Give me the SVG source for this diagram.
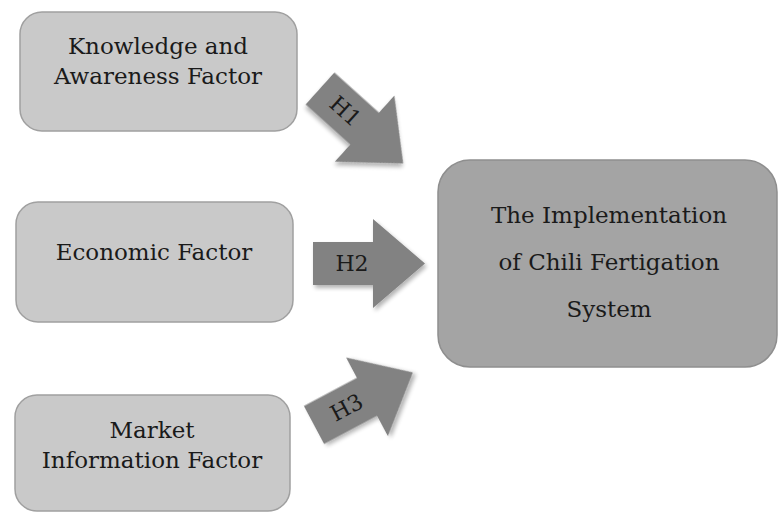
<svg xmlns="http://www.w3.org/2000/svg" width="779" height="514" viewBox="0 0 779 514">
<style>
.box{fill:#c9c9c9;stroke:#a0a0a0;stroke-width:1.5}
.main{fill:#a4a4a4;stroke:#8e8e8e;stroke-width:1.5}
.lbl{font-family:"DejaVu Serif","Liberation Serif",serif;font-size:23px;fill:#1a1a1a;text-anchor:middle}
.arr{fill:#828282;filter:url(#sh)}
.h{font-family:"DejaVu Serif","Liberation Serif",serif;font-size:22px;fill:#1a1a1a;text-anchor:middle;dominant-baseline:central}
</style>
<defs>
<filter id="sh" x="-20%" y="-20%" width="140%" height="140%">
<feGaussianBlur in="SourceAlpha" stdDeviation="2"/>
<feOffset dx="2" dy="3" result="b"/>
<feComponentTransfer><feFuncA type="linear" slope="0.3"/></feComponentTransfer>
<feMerge><feMergeNode/><feMergeNode in="SourceGraphic"/></feMerge>
</filter>
<path id="arrow" d="M0,-21.5 L60,-21.5 L60,-44.5 L112,0 L60,44.5 L60,21.5 L0,21.5 Z"/>
</defs>
<rect width="779" height="514" fill="#ffffff"/>
<g id="knowledge">
<rect class="box" x="20" y="12" width="277" height="119" rx="22"/>
<text class="lbl" x="158" y="54">Knowledge and</text>
<text class="lbl" x="158" y="84">Awareness Factor</text>
</g>
<g id="economic">
<rect class="box" x="16" y="202" width="277" height="120" rx="22"/>
<text class="lbl" x="154" y="260">Economic Factor</text>
</g>
<g id="market">
<rect class="box" x="15" y="395" width="275" height="116" rx="22"/>
<text class="lbl" x="152" y="438">Market</text>
<text class="lbl" x="152" y="468">Information Factor</text>
</g>
<g id="implementation">
<rect class="main" x="438" y="160" width="339" height="207" rx="32"/>
<text class="lbl" x="609" y="223">The Implementation</text>
<text class="lbl" x="609" y="270">of Chili Fertigation</text>
<text class="lbl" x="609" y="317">System</text>
</g>
<g id="connectors">
<g id="h1" transform="translate(320,88.5) rotate(42)">
<use href="#arrow" class="arr"/>
<text class="h" x="34" y="0">H1</text>
</g>
<g id="h2" transform="translate(313,263.5)">
<use href="#arrow" class="arr"/>
<text class="h" x="39" y="0">H2</text>
</g>
<g id="h3" transform="translate(314,425) rotate(-28)">
<use href="#arrow" class="arr"/>
<text class="h" x="37" y="0">H3</text>
</g>
</g>
</svg>
